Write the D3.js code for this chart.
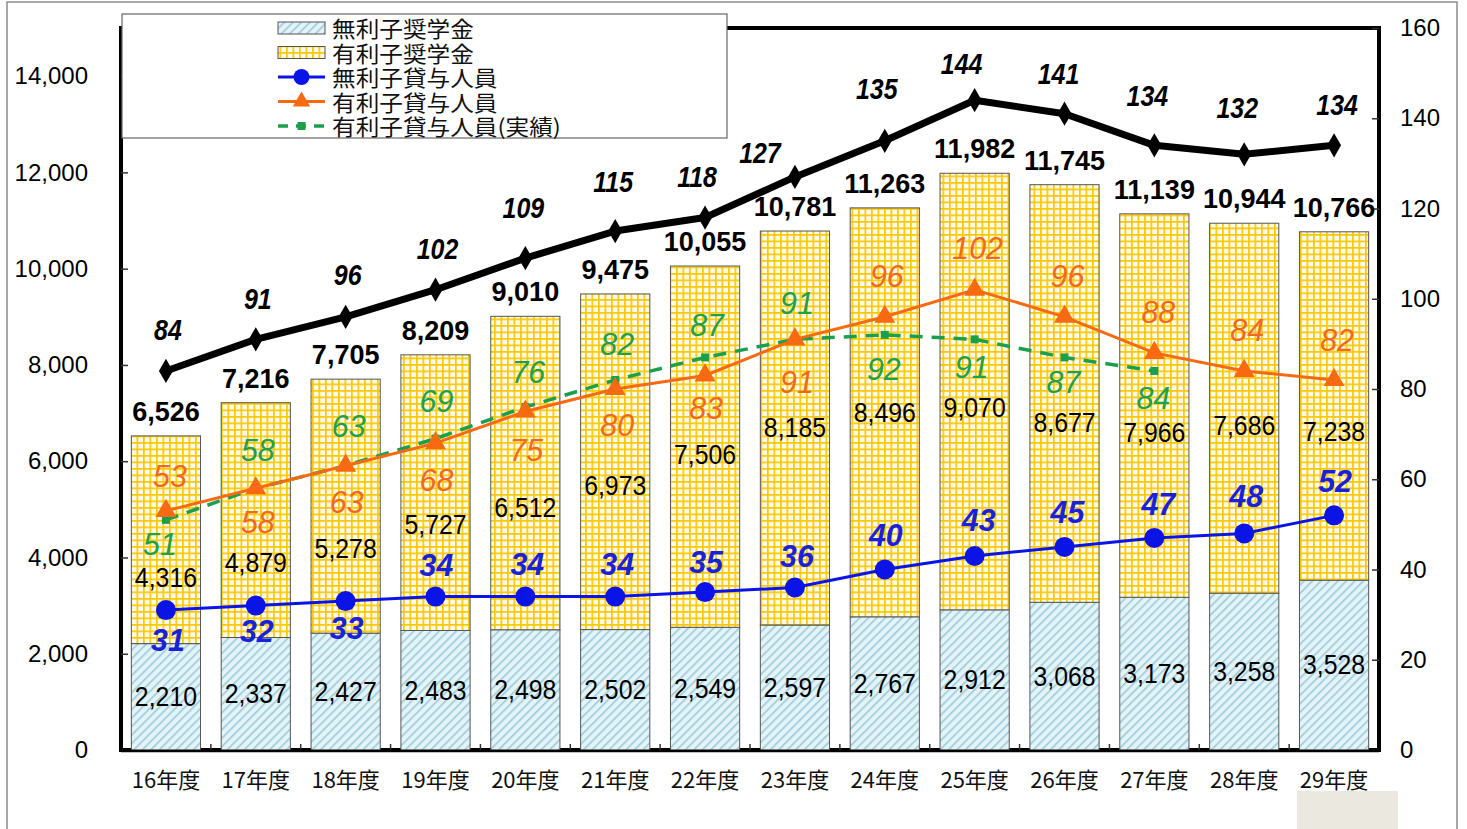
<!DOCTYPE html>
<html lang="ja">
<head>
<meta charset="utf-8">
<title>奨学金事業費と貸与人員の推移</title>
<script src="https://cdn.jsdelivr.net/npm/d3@7"></script>
<style>
  html, body { margin: 0; padding: 0; background: #fff; }
  svg { display: block; }
  .num { font-family: "Liberation Sans", Arial, sans-serif; }
  .jp  { font-family: "Noto Sans CJK JP", "Noto Sans", sans-serif; }
</style>
</head>
<body>
<svg id="chart" width="1467" height="829"></svg>
<script>
// ---- data ----
const years = ['16年度','17年度','18年度','19年度','20年度','21年度','22年度','23年度','24年度','25年度','26年度','27年度','28年度','29年度'];
// scholarship budget (left axis)
const freeScholarship     = [2210, 2337, 2427, 2483, 2498, 2502, 2549, 2597, 2767, 2912, 3068, 3173, 3258, 3528];
const interestScholarship = [4316, 4879, 5278, 5727, 6512, 6973, 7506, 8185, 8496, 9070, 8677, 7966, 7686, 7238];
const scholarshipTotal    = [6526, 7216, 7705, 8209, 9010, 9475, 10055, 10781, 11263, 11982, 11745, 11139, 10944, 10766];
// recipients (right axis)
const totalRecipients     = [84, 91, 96, 102, 109, 115, 118, 127, 135, 144, 141, 134, 132, 134];
const freeRecipients      = [31, 32, 33, 34, 34, 34, 35, 36, 40, 43, 45, 47, 48, 52];
const interestRecipients  = [53, 58, 63, 68, 75, 80, 83, 91, 96, 102, 96, 88, 84, 82];
const interestActual      = [51, 58, 63, 69, 76, 82, 87, 91, 92, 91, 87, 84];
// axis ticks
const leftTicks  = [0, 2000, 4000, 6000, 8000, 10000, 12000, 14000];
const rightTicks = [0, 20, 40, 60, 80, 100, 120, 140, 160];
const legendLabels = ['無利子奨学金', '有利子奨学金', '無利子貸与人員', '有利子貸与人員', '有利子貸与人員(実績)'];

// ---- label placement (pixel nudges so labels do not collide) ----
const labelNudge = {
  total:    { dx: [2,2,2,2,-2,-2,-8,-35,-8,-13,-6,-7,-7,3],
              dy: [-41,-40,-41,-40,-50,-49,-40,-24,-51,-36,-39,-49,-46,-40] },
  free:     { dx: [2,1,1,1,2,2,1,2,1,4,3,4,2,1],
              dy: [30,26,27,-31,-32,-32,-30,-31,-34,-36,-35,-34,-37,-34] },
  interest: { dx: [4,2,1,1,1,2,1,2,2,3,3,4,3,3],
              dy: [-35,34,37,37,39,36,33,43,-41,-41,-41,-41,-41,-40] },
  actual:   { dx: [-6,2,3,1,3,2,2,2,-1,-3,-1,-1],
              dy: [24,-38,-39,-37,-35,-36,-32,-36,34,28,25,27] },
  upperSeg: [38,43,42,32,35,24,8,0,0,16,29,27,17,26]
};

// ---- colours ----
const C = {
  blue: '#0a14e6', blueText: '#1a22d8',
  orange: '#f76a12', orangeText: '#f2691e',
  green: '#1c9f4c', greenText: '#21a04a',
  black: '#000'
};

const svg = d3.select('#chart');
const W = 1467, H = 829;
const plot = { left: 121, right: 1379, top: 28, bottom: 750 };

// ---- scales ----
const x = d3.scaleBand().domain(years).range([plot.left, plot.right])
  .paddingInner(0.23).paddingOuter(0.115);
const yL = d3.scaleLinear().domain([0, 15000]).range([plot.bottom, plot.top]);
const yR = d3.scaleLinear().domain([0, 160]).range([plot.bottom, plot.top]);
const cx = d => x(d) + x.bandwidth() / 2;

// ---- patterns ----
const defs = svg.append('defs');
const hatch = defs.append('pattern').attr('id', 'hatch')
  .attr('patternUnits', 'userSpaceOnUse').attr('width', 6).attr('height', 6)
  .attr('patternTransform', 'rotate(45)');
hatch.append('rect').attr('width', 6).attr('height', 6).attr('fill', '#e2f4f8');
hatch.append('rect').attr('x', 0).attr('width', 1.6).attr('height', 6).attr('fill', '#9fc9d8');

const grid = defs.append('pattern').attr('id', 'grid')
  .attr('patternUnits', 'userSpaceOnUse').attr('width', 6.5).attr('height', 6.5);
grid.append('rect').attr('width', 6.5).attr('height', 6.5).attr('fill', '#fffbe6');
grid.append('rect').attr('width', 1.7).attr('height', 6.5).attr('fill', '#f9c80a');
grid.append('rect').attr('width', 6.5).attr('height', 1.7).attr('fill', '#f9c80a');

// ---- background & outer frame ----
svg.append('rect').attr('width', W).attr('height', H).attr('fill', '#fff');
svg.append('rect').attr('x', 7).attr('y', 2).attr('width', 1450).attr('height', 860)
  .attr('fill', 'none').attr('stroke', '#8c8c8c').attr('stroke-width', 1.5);
svg.append('rect').attr('x', 1297).attr('y', 791).attr('width', 101).attr('height', 38)
  .attr('fill', '#ebe8df');

// ---- plot frame ----
svg.append('rect')
  .attr('x', plot.left).attr('y', plot.top)
  .attr('width', plot.right - plot.left).attr('height', plot.bottom - plot.top)
  .attr('fill', 'none').attr('stroke', '#000').attr('stroke-width', 4);

// ---- axes ----
const axL = svg.append('g').attr('transform', `translate(${plot.left},0)`)
  .call(d3.axisLeft(yL).tickValues(leftTicks).tickFormat(d3.format(',')).tickSize(-7).tickPadding(33));
const axR = svg.append('g').attr('transform', `translate(${plot.right},0)`)
  .call(d3.axisRight(yR).tickValues(rightTicks).tickSize(-7).tickPadding(21));
const axB = svg.append('g').attr('transform', `translate(0,${plot.bottom})`)
  .call(d3.axisBottom(x).tickSize(0).tickPadding(22));
[axL, axR, axB].forEach(a => a.select('.domain').remove());
[axL, axR].forEach(a => {
  a.selectAll('line').attr('stroke', '#333').attr('stroke-width', 1.5);
  a.selectAll('text').attr('class', 'num').attr('font-size', 24).attr('fill', '#000');
});
axB.selectAll('text').attr('class', 'jp').attr('font-size', 22).attr('fill', '#111');

// small ticks between categories on the bottom axis
const step = x.step();
svg.append('g').selectAll('line').data(years.slice(1)).join('line')
  .attr('x1', d => x(d) - step * x.paddingInner() / 2)
  .attr('x2', d => x(d) - step * x.paddingInner() / 2)
  .attr('y1', plot.bottom).attr('y2', plot.bottom - 6)
  .attr('stroke', '#333').attr('stroke-width', 1.5);

// ---- stacked bars ----
const bars = svg.append('g');
bars.selectAll('rect.free').data(years).join('rect').attr('class', 'free')
  .attr('x', d => x(d)).attr('width', x.bandwidth())
  .attr('y', (d, i) => yL(freeScholarship[i]))
  .attr('height', (d, i) => yL(0) - yL(freeScholarship[i]))
  .attr('fill', 'url(#hatch)').attr('stroke', '#555').attr('stroke-width', 1);
bars.selectAll('rect.interest').data(years).join('rect').attr('class', 'interest')
  .attr('x', d => x(d)).attr('width', x.bandwidth())
  .attr('y', (d, i) => yL(freeScholarship[i] + interestScholarship[i]))
  .attr('height', (d, i) => yL(freeScholarship[i]) - yL(freeScholarship[i] + interestScholarship[i]))
  .attr('fill', 'url(#grid)').attr('stroke', '#555').attr('stroke-width', 1);

// redraw the bottom edge of the frame over the bars
svg.append('line').attr('x1', plot.left).attr('x2', plot.right)
  .attr('y1', plot.bottom + 1).attr('y2', plot.bottom + 1)
  .attr('stroke', '#000').attr('stroke-width', 2.5);

// ---- lines ----
const lineGen = data => d3.line()
  .x((d, i) => cx(years[i]))
  .y(d => yR(d))(data);

const lines = svg.append('g');
// actual interest-bearing recipients (dashed)
lines.append('path').attr('d', lineGen(interestActual))
  .attr('fill', 'none').attr('stroke', C.green).attr('stroke-width', 3.5)
  .attr('stroke-dasharray', '13,9');
lines.selectAll('rect.act').data(interestActual).join('rect').attr('class', 'act')
  .attr('x', (d, i) => cx(years[i]) - 4).attr('y', d => yR(d) - 4)
  .attr('width', 8).attr('height', 8).attr('fill', C.green);

// interest-bearing recipients
lines.append('path').attr('d', lineGen(interestRecipients))
  .attr('fill', 'none').attr('stroke', C.orange).attr('stroke-width', 3);
lines.selectAll('path.tri').data(interestRecipients).join('path').attr('class', 'tri')
  .attr('d', d3.symbol(d3.symbolTriangle, 190))
  .attr('transform', (d, i) => `translate(${cx(years[i])},${yR(d)})`)
  .attr('fill', C.orange);

// interest-free recipients
lines.append('path').attr('d', lineGen(freeRecipients))
  .attr('fill', 'none').attr('stroke', C.blue).attr('stroke-width', 3);
lines.selectAll('circle.free').data(freeRecipients).join('circle').attr('class', 'free')
  .attr('cx', (d, i) => cx(years[i])).attr('cy', d => yR(d)).attr('r', 10)
  .attr('fill', C.blue);

// total recipients
lines.append('path').attr('d', lineGen(totalRecipients))
  .attr('fill', 'none').attr('stroke', C.black).attr('stroke-width', 7)
  .attr('stroke-linejoin', 'round');
lines.selectAll('path.dia').data(totalRecipients).join('path').attr('class', 'dia')
  .attr('d', d3.symbol(d3.symbolDiamond, 170))
  .attr('transform', (d, i) => `translate(${cx(years[i])},${yR(d)})`)
  .attr('fill', C.black);

// ---- labels ----
const labels = svg.append('g');
function label(xp, yp, s, o) {
  labels.append('text')
    .attr('class', 'num')
    .attr('transform', `translate(${xp},${yp}) scale(${o.sx || 1},1)`)
    .attr('text-anchor', 'middle')
    .attr('dominant-baseline', 'central')
    .attr('font-size', o.size)
    .attr('font-weight', o.weight || 'normal')
    .attr('font-style', o.style || 'normal')
    .attr('fill', o.fill || '#000')
    .text(s);
}
const fmt = d3.format(',');

years.forEach((yr, i) => {
  const c = cx(yr);
  const f = freeScholarship[i], it = interestScholarship[i];
  // interest-free segment value
  label(c, (yL(0) + yL(f)) / 2, fmt(f), { size: 27, sx: 0.92 });
  // interest-bearing segment value
  label(c, (yL(f) + yL(f + it)) / 2 + labelNudge.upperSeg[i], fmt(it), { size: 27, sx: 0.92 });
  // bar total
  label(c, yL(f + it) - 24, fmt(scholarshipTotal[i]), { size: 27, weight: 'bold' });
  // recipients
  label(c + labelNudge.total.dx[i], yR(totalRecipients[i]) + labelNudge.total.dy[i],
        totalRecipients[i], { size: 29, weight: 'bold', style: 'italic', sx: 0.86 });
  label(c + labelNudge.free.dx[i], yR(freeRecipients[i]) + labelNudge.free.dy[i],
        freeRecipients[i], { size: 32, weight: 'bold', style: 'italic', fill: C.blueText, sx: 0.95 });
  label(c + labelNudge.interest.dx[i], yR(interestRecipients[i]) + labelNudge.interest.dy[i],
        interestRecipients[i], { size: 32, style: 'italic', fill: C.orangeText, sx: 0.95 });
});
interestActual.forEach((v, i) => {
  label(cx(years[i]) + labelNudge.actual.dx[i], yR(v) + labelNudge.actual.dy[i],
        v, { size: 32, style: 'italic', fill: C.greenText, sx: 0.95 });
});

// ---- legend ----
const lg = svg.append('g');
lg.append('rect').attr('x', 122).attr('y', 14).attr('width', 605).attr('height', 124)
  .attr('fill', '#fff').attr('stroke', '#666').attr('stroke-width', 1.2);
const rowY = i => 28 + i * 24.5;
const sx0 = 278, sx1 = 325, smid = (sx0 + sx1) / 2;
// swatches
lg.append('rect').attr('x', sx0).attr('y', rowY(0) - 6).attr('width', sx1 - sx0).attr('height', 12)
  .attr('fill', 'url(#hatch)').attr('stroke', '#555');
lg.append('rect').attr('x', sx0).attr('y', rowY(1) - 6).attr('width', sx1 - sx0).attr('height', 12)
  .attr('fill', 'url(#grid)').attr('stroke', '#555');
lg.append('line').attr('x1', sx0).attr('x2', sx1).attr('y1', rowY(2)).attr('y2', rowY(2))
  .attr('stroke', C.blue).attr('stroke-width', 3);
lg.append('circle').attr('cx', smid).attr('cy', rowY(2)).attr('r', 8).attr('fill', C.blue);
lg.append('line').attr('x1', sx0).attr('x2', sx1).attr('y1', rowY(3)).attr('y2', rowY(3))
  .attr('stroke', C.orange).attr('stroke-width', 3);
lg.append('path').attr('d', d3.symbol(d3.symbolTriangle, 130))
  .attr('transform', `translate(${smid},${rowY(3)})`).attr('fill', C.orange);
lg.append('line').attr('x1', sx0).attr('x2', sx1).attr('y1', rowY(4)).attr('y2', rowY(4))
  .attr('stroke', C.green).attr('stroke-width', 3.5).attr('stroke-dasharray', '10,8');
lg.append('rect').attr('x', smid - 4).attr('y', rowY(4) - 4).attr('width', 8).attr('height', 8)
  .attr('fill', C.green);
lg.selectAll('text').data(legendLabels).join('text')
  .attr('class', 'jp')
  .attr('transform', (d, i) => `translate(332,${rowY(i)}) scale(1.1,1)`)
  .attr('dominant-baseline', 'central').attr('font-size', 21.5).attr('fill', '#111')
  .text(d => d);
</script>
</body>
</html>
